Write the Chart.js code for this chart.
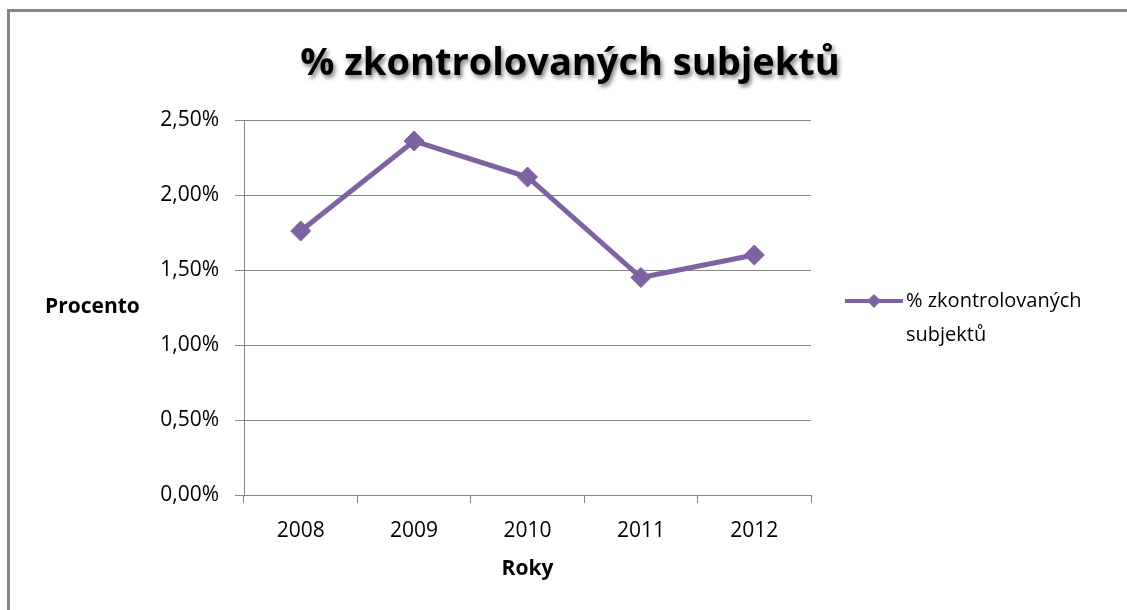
<!DOCTYPE html>
<html>
<head>
<meta charset="utf-8">
<title>% zkontrolovaných subjektů</title>
<script src="https://cdn.jsdelivr.net/npm/chart.js@4/dist/chart.umd.min.js"></script>
<style>
  html, body { margin: 0; padding: 0; background: #fff; }
</style>
</head>
<body>
<canvas id="myChart" width="1127" height="610"></canvas>
<script>
const years = ['2008', '2009', '2010', '2011', '2012'];
const checkedPct = [1.76, 2.36, 2.12, 1.45, 1.60];
const seriesName = '% zkontrolovaných subjektů';
const chartTitle = '% zkontrolovaných subjektů';
const yTitle = 'Procento';
const xTitle = 'Roky';
const yMin = 0;
const yMax = 2.5;
const yStep = 0.5;

const purple = '#7E62A1';
const gray = '#868686';
const fontName = "'Open Sans', 'Liberation Sans', sans-serif";

// title, horizontal y title, legend and the frame are drawn here
const chartDecor = {
    id: 'chartDecor',
    afterDraw(chart) {
        const ctx = chart.ctx;
        ctx.save();

        // frame (left + top, like the cropped excel chart)
        ctx.fillStyle = gray;
        ctx.fillRect(7, 9, 1120, 3);
        ctx.fillRect(7, 9, 3, 601);

        // title with shadow
        ctx.save();
        ctx.font = 'bold 38px ' + fontName;
        ctx.textAlign = 'center';
        ctx.textBaseline = 'alphabetic';
        ctx.shadowColor = 'rgba(0,0,0,0.5)';
        ctx.shadowOffsetX = 2;
        ctx.shadowOffsetY = 3;
        ctx.shadowBlur = 4;
        ctx.fillStyle = '#000';
        ctx.fillText(chartTitle, 570, 75);
        ctx.restore();

        // y title, not rotated
        ctx.font = 'bold 21px ' + fontName;
        ctx.fillStyle = '#000';
        ctx.textAlign = 'left';
        ctx.textBaseline = 'middle';
        ctx.fillText(yTitle, 45, 307);

        // legend
        const ds = chart.data.datasets[0];
        const lx = 845, ly = 301;
        ctx.strokeStyle = ds.borderColor;
        ctx.lineWidth = 4;
        ctx.beginPath();
        ctx.moveTo(lx, ly);
        ctx.lineTo(lx + 58, ly);
        ctx.stroke();
        ctx.fillStyle = ds.borderColor;
        ctx.beginPath();
        ctx.moveTo(lx + 29, ly - 7);
        ctx.lineTo(lx + 36, ly);
        ctx.lineTo(lx + 29, ly + 7);
        ctx.lineTo(lx + 22, ly);
        ctx.closePath();
        ctx.fill();

        const cut = ds.label.lastIndexOf(' ');
        ctx.font = '20px ' + fontName;
        ctx.fillStyle = '#000';
        ctx.fillText(ds.label.slice(0, cut), 906, ly);
        ctx.fillText(ds.label.slice(cut + 1), 906, ly + 34);

        ctx.restore();
    }
};

const ctx = document.getElementById('myChart').getContext('2d');

const myChart = new Chart(ctx, {
    type: 'line',
    data: {
        labels: years,
        datasets: [{
            label: seriesName,
            data: checkedPct,
            borderColor: purple,
            backgroundColor: purple,
            borderWidth: 5,
            tension: 0,
            pointStyle: 'rectRot',
            pointRadius: 10,
            pointBorderWidth: 1,
            pointBackgroundColor: purple,
            pointBorderColor: purple,
            clip: false
        }]
    },
    options: {
        responsive: false,
        animation: false,
        layout: {
            padding: { top: 120, right: 316, left: 0, bottom: 0 }
        },
        plugins: {
            legend: { display: false },
            title: { display: false },
            tooltip: { enabled: false }
        },
        scales: {
            x: {
                offset: true,
                afterFit(scale) { scale.height = 115; },
                grid: {
                    offset: true,
                    drawOnChartArea: false,
                    drawTicks: true,
                    tickLength: 8,
                    color: gray
                },
                border: { color: gray, width: 1 },
                ticks: {
                    color: '#000',
                    padding: 15,
                    font: { family: fontName, size: 21 }
                },
                title: {
                    display: true,
                    text: xTitle,
                    color: '#000',
                    font: { family: fontName, size: 21, weight: 'bold' },
                    padding: { top: 0, bottom: 28 }
                }
            },
            y: {
                min: yMin,
                max: yMax,
                afterFit(scale) { scale.width = 244; },
                grid: {
                    color: gray,
                    tickLength: 9
                },
                border: { color: gray, width: 1 },
                ticks: {
                    stepSize: yStep,
                    color: '#000',
                    padding: 16,
                    font: { family: fontName, size: 21 },
                    callback: (v) => v.toFixed(2).replace('.', ',') + '%'
                }
            }
        }
    },
    plugins: [chartDecor]
});
</script>
</body>
</html>
